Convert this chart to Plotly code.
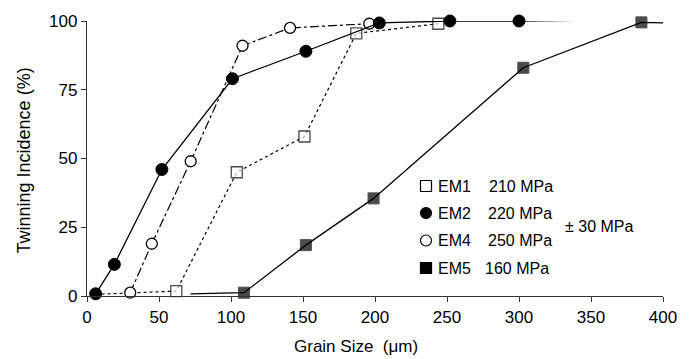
import plotly.graph_objects as go

# ---- data ----
em1_x = [6, 30, 62, 104, 151, 187, 244]
em1_y = [0.6, 1.0, 1.8, 45, 58, 95.5, 99]
em1_show = [0, 0, 1, 1, 1, 1, 1]

em2_x = [6, 19, 52, 101, 152, 203, 252, 300, 350]
em2_y = [0.8, 11.5, 46, 79, 89, 99.3, 100, 100, 100.3]

em4_x = [30, 45, 72, 108, 141, 196]
em4_y = [1.2, 19, 49, 91, 97.5, 99]

em5_x = [72, 109, 152, 199, 303, 385, 408]
em5_y = [0.8, 1.2, 18.5, 35.5, 83, 99.5, 99.2]
em5_show = [0, 1, 1, 1, 1, 1, 0]

x_ticks = [0, 50, 100, 150, 200, 250, 300, 350, 400]
y_ticks = [0, 25, 50, 75, 100]

legend_names = ["EM1", "EM2", "EM4", "EM5"]
legend_stress = ["210 MPa", "220 MPa", "250 MPa", "160 MPa"]
stress_note = "± 30 MPa"

FONT = "Liberation Sans, Arial, Helvetica, sans-serif"
W, H = 692, 359
L, R, T, B = 87, 29, 16, 63
PW, PH = W - L - R, H - T - B

def px_x(p):
    return (p - L) / PW

def px_y(p):
    return (H - B - p) / PH

fig = go.Figure()

MS = 11
fig.add_trace(go.Scatter(
    x=em1_x, y=em1_y, mode="lines+markers", cliponaxis=False,
    line=dict(color="black", width=1.2, dash="3px,3px"),
    marker=dict(symbol="square", size=[MS * s for s in em1_show], color="white",
                line=dict(color="black", width=1.3)),
    showlegend=False))
fig.add_trace(go.Scatter(
    x=em4_x, y=em4_y, mode="lines+markers", cliponaxis=False,
    line=dict(color="black", width=1.2, dash="9px,3px,3px,3px"),
    marker=dict(symbol="circle", size=MS, color="white",
                line=dict(color="black", width=1.3)),
    showlegend=False))
fig.add_trace(go.Scatter(
    x=em5_x, y=em5_y, mode="lines+markers", cliponaxis=False,
    line=dict(color="black", width=1.3),
    marker=dict(symbol="square", size=[MS * s for s in em5_show], color="black",
                line=dict(color="black", width=1)),
    showlegend=False))
fig.add_trace(go.Scatter(
    x=em2_x, y=em2_y, mode="lines+markers", cliponaxis=False,
    line=dict(color="black", width=1.3),
    marker=dict(symbol="circle", size=MS + 1, color="black",
                line=dict(color="black", width=1)),
    showlegend=False))

# legend key symbols on an overlay axis in paper-like units
sym_px_x = 426
sym_px_y = [184, 211.5, 239.5, 267.5]
sym_style = [("square", "white"), ("circle", "black"), ("circle", "white"), ("square", "black")]
for i, (sym, fill) in enumerate(sym_style):
    fig.add_trace(go.Scatter(
        x=[px_x(sym_px_x)], y=[px_y(sym_px_y[i])], xaxis="x2", yaxis="y2",
        mode="markers", cliponaxis=False, showlegend=False, hoverinfo="skip",
        marker=dict(symbol=sym, size=11, color=fill, line=dict(color="black", width=1.2))))

ann = []
name_px_x = 436
stress_px_x = [487, 486, 486, 483]
for i in range(4):
    ann.append(dict(x=px_x(name_px_x), y=px_y(sym_px_y[i]), xref="paper", yref="paper",
                    text=legend_names[i], showarrow=False, xanchor="left", yanchor="middle",
                    font=dict(family=FONT, size=16, color="black")))
    ann.append(dict(x=px_x(stress_px_x[i]), y=px_y(sym_px_y[i]), xref="paper", yref="paper",
                    text=legend_stress[i], showarrow=False, xanchor="left", yanchor="middle",
                    font=dict(family=FONT, size=16, color="black")))
ann.append(dict(x=px_x(563), y=px_y(225), xref="paper", yref="paper",
                text=stress_note, showarrow=False, xanchor="left", yanchor="middle",
                font=dict(family=FONT, size=16, color="black")))
ann.append(dict(x=px_x(356), y=px_y(347), xref="paper", yref="paper",
                text="Grain Size  (μm)", showarrow=False, xanchor="center", yanchor="middle",
                font=dict(family=FONT, size=17, color="black")))
ann.append(dict(x=px_x(24), y=px_y(158), xref="paper", yref="paper",
                text="Twinning Incidence (%)", showarrow=False, textangle=-90,
                xanchor="center", yanchor="middle",
                font=dict(family=FONT, size=18, color="black")))

axis_common = dict(showgrid=False, zeroline=False, showline=True, linecolor="#333",
                   linewidth=1.3, ticks="outside", ticklen=5, tickwidth=1.3,
                   tickcolor="#333", tickfont=dict(family=FONT, size=17, color="black"))

fig.update_layout(
    width=W, height=H, margin=dict(l=L, r=R, t=T, b=B),
    paper_bgcolor="white", plot_bgcolor="white",
    xaxis=dict(range=[0, 400], tickvals=x_ticks, **axis_common),
    yaxis=dict(range=[0, 100], tickvals=y_ticks, **axis_common),
    xaxis2=dict(range=[0, 1], overlaying="x", visible=False),
    yaxis2=dict(range=[0, 1], overlaying="y", visible=False),
    annotations=ann,
    hovermode=False,
)

fig.write_html("out.html", config={"displayModeBar": False},
               post_script="document.body.style.margin='0';document.body.style.overflow='hidden';")
